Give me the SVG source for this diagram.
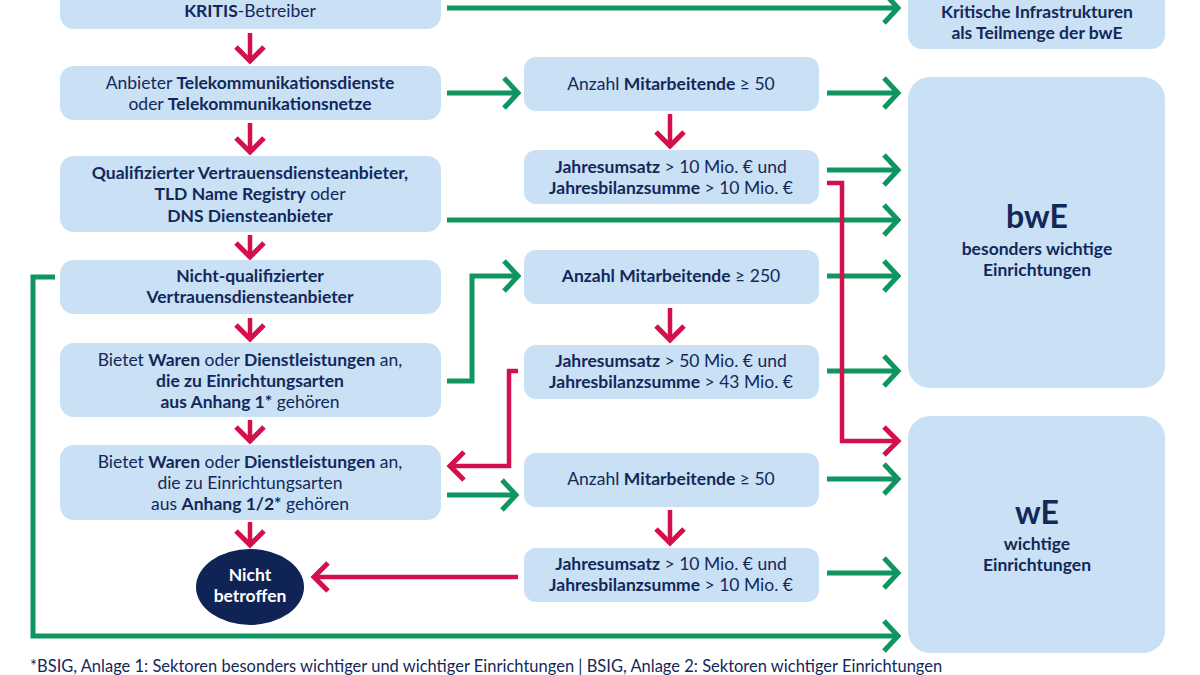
<svg xmlns="http://www.w3.org/2000/svg" width="1200" height="675" viewBox="0 0 1200 675">
<style>
.box{fill:#c9e0f5}
text{font-family:Lato,"Noto Sans",sans-serif;fill:#13285a;font-size:17.5px;text-anchor:middle}
.b{font-weight:bold}
.g{fill:none;stroke:#0e9560;stroke-width:5}
.r{fill:none;stroke:#d3104c;stroke-width:4.5}
</style>
<defs>
<marker id="ag" markerUnits="userSpaceOnUse" markerWidth="30" markerHeight="40" viewBox="-20 -20 30 40" refX="0" refY="0" orient="auto"><path d="M-14,-15 L0,0 L-14,15" fill="none" stroke="#0e9560" stroke-width="5"/></marker>
<marker id="ar" markerUnits="userSpaceOnUse" markerWidth="30" markerHeight="40" viewBox="-20 -20 30 40" refX="0" refY="0" orient="auto"><path d="M-14,-14 L0,0 L-14,14" fill="none" stroke="#d3104c" stroke-width="5"/></marker>
</defs>
<rect width="1200" height="675" fill="#fff"/>
<g id="connectors">
<path class="g" marker-end="url(#ag)" d="M447,8 H898"/>
<path class="g" marker-end="url(#ag)" d="M447,93 H518"/>
<path class="g" marker-end="url(#ag)" d="M827,93 H898"/>
<path class="g" marker-end="url(#ag)" d="M827,170 H898"/>
<path class="g" marker-end="url(#ag)" d="M447,220 H898"/>
<path class="g" marker-end="url(#ag)" d="M827,276 H898"/>
<path class="g" marker-end="url(#ag)" d="M827,371 H898"/>
<path class="g" marker-end="url(#ag)" d="M827,479 H898"/>
<path class="g" marker-end="url(#ag)" d="M827,573 H898"/>
<path class="g" marker-end="url(#ag)" d="M447,381 H472 V276 H518"/>
<path class="g" marker-end="url(#ag)" d="M447,495 H516"/>
<path class="g" marker-end="url(#ag)" d="M55,277 H33 V636 H898"/>
<path class="r" marker-end="url(#ar)" d="M827,183 H842 V441 H898"/>
<path class="r" marker-end="url(#ar)" d="M518,371 H509 V466 H450"/>
<path class="r" marker-end="url(#ar)" d="M518,577 H314"/>
<path class="r" marker-end="url(#ar)" d="M250,33 V61"/>
<path class="r" marker-end="url(#ar)" d="M250,123 V152"/>
<path class="r" marker-end="url(#ar)" d="M250,235 V257"/>
<path class="r" marker-end="url(#ar)" d="M250,318 V339"/>
<path class="r" marker-end="url(#ar)" d="M250,420 V441"/>
<path class="r" marker-end="url(#ar)" d="M250,522 V545"/>
<path class="r" marker-end="url(#ar)" d="M670,114 V146"/>
<path class="r" marker-end="url(#ar)" d="M670,308 V340"/>
<path class="r" marker-end="url(#ar)" d="M670,510 V543"/>
</g>
<g id="n1"><rect class="box" x="60" y="-20" width="381" height="49" rx="14"/><text x="250" y="17"><tspan class="b">KRITIS</tspan>-Betreiber</text></g>
<g id="n2"><rect class="box" x="60" y="66" width="381" height="54" rx="14"/><text x="250" y="89">Anbieter <tspan class="b">Telekommunikationsdienste</tspan></text><text x="250" y="110">oder <tspan class="b">Telekommunikationsnetze</tspan></text></g>
<g id="n3"><rect class="box" x="60" y="156" width="381" height="76" rx="14"/><text x="250" y="179" class="b">Qualifizierter Vertrauensdiensteanbieter,</text><text x="250" y="200"><tspan class="b">TLD Name Registry</tspan> oder</text><text x="250" y="222" class="b">DNS Diensteanbieter</text></g>
<g id="n4"><rect class="box" x="60" y="260" width="381" height="54" rx="14"/><text x="250" y="282" class="b">Nicht-qualifizierter</text><text x="250" y="303" class="b">Vertrauensdiensteanbieter</text></g>
<g id="n5"><rect class="box" x="60" y="343" width="381" height="74" rx="14"/><text x="250" y="366">Bietet <tspan class="b">Waren</tspan> oder <tspan class="b">Dienstleistungen</tspan> an,</text><text x="250" y="387" class="b">die zu Einrichtungsarten</text><text x="250" y="408"><tspan class="b">aus Anhang 1*</tspan> gehören</text></g>
<g id="n6"><rect class="box" x="60" y="445" width="381" height="75" rx="14"/><text x="250" y="468">Bietet <tspan class="b">Waren</tspan> oder <tspan class="b">Dienstleistungen</tspan> an,</text><text x="250" y="489">die zu Einrichtungsarten</text><text x="250" y="510">aus <tspan class="b">Anhang 1/2*</tspan> gehören</text></g>
<g id="n7"><ellipse cx="250" cy="587" rx="54" ry="38" fill="#0f2355"/><text x="250" y="581" class="b" style="fill:#fff">Nicht</text><text x="250" y="602" class="b" style="fill:#fff">betroffen</text></g>
<g id="m1"><rect class="box" x="524" y="57" width="295" height="54" rx="12"/><text x="671" y="90">Anzahl <tspan class="b">Mitarbeitende</tspan> ≥ 50</text></g>
<g id="m2"><rect class="box" x="524" y="150" width="295" height="54" rx="12"/><text x="671" y="173"><tspan class="b">Jahresumsatz</tspan> &gt; 10 Mio. € und</text><text x="671" y="194"><tspan class="b">Jahresbilanzsumme</tspan> &gt; 10 Mio. €</text></g>
<g id="m3"><rect class="box" x="524" y="250" width="295" height="54" rx="12"/><text x="671" y="282"><tspan class="b">Anzahl Mitarbeitende</tspan> ≥ 250</text></g>
<g id="m4"><rect class="box" x="524" y="345" width="295" height="54" rx="12"/><text x="671" y="367"><tspan class="b">Jahresumsatz</tspan> &gt; 50 Mio. € und</text><text x="671" y="388"><tspan class="b">Jahresbilanzsumme</tspan> &gt; 43 Mio. €</text></g>
<g id="m5"><rect class="box" x="524" y="453" width="295" height="54" rx="12"/><text x="671" y="485">Anzahl <tspan class="b">Mitarbeitende</tspan> ≥ 50</text></g>
<g id="m6"><rect class="box" x="524" y="548" width="295" height="54" rx="12"/><text x="671" y="570"><tspan class="b">Jahresumsatz</tspan> &gt; 10 Mio. € und</text><text x="671" y="591"><tspan class="b">Jahresbilanzsumme</tspan> &gt; 10 Mio. €</text></g>
<g id="r1"><rect class="box" x="908" y="-20" width="257" height="69" rx="14"/><text x="1037" y="18" class="b">Kritische Infrastrukturen</text><text x="1037" y="39" class="b">als Teilmenge der bwE</text></g>
<g id="r2"><rect class="box" x="908" y="77" width="257" height="311" rx="22"/><text x="1037" y="228" class="b" style="font-size:32px">bwE</text><text x="1037" y="255" class="b">besonders wichtige</text><text x="1037" y="276" class="b">Einrichtungen</text></g>
<g id="r3"><rect class="box" x="908" y="416" width="257" height="237" rx="22"/><text x="1037" y="524" class="b" style="font-size:32px">wE</text><text x="1037" y="550" class="b">wichtige</text><text x="1037" y="571" class="b">Einrichtungen</text></g>
<text x="30" y="672" style="text-anchor:start;font-size:16.5px">*BSIG, Anlage 1: Sektoren besonders wichtiger und wichtiger Einrichtungen | BSIG, Anlage 2: Sektoren wichtiger Einrichtungen</text>
</svg>
